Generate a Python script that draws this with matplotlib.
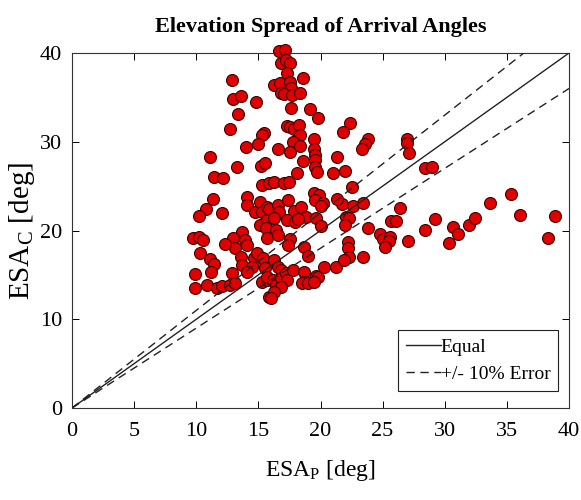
import matplotlib
matplotlib.use("Agg")
import matplotlib.pyplot as plt
import numpy as np

plt.rcParams['font.family'] = ['Liberation Serif', 'DejaVu Serif']
plt.rcParams['mathtext.fontset'] = 'custom'
plt.rcParams['mathtext.rm'] = 'Liberation Serif'
plt.rcParams['mathtext.it'] = 'Liberation Serif:italic'

# ESA_P (x) and ESA_C (y) in degrees
esa_p = [22.41, 21.79, 23.81, 23.6, 23.35, 26.97, 26.93, 27.1, 21.98, 28.44,
         28.99, 22.55, 21.76, 22.65, 23.41, 26.37, 22.04, 22.33, 21.98, 23.81,
         25.7, 26.1, 29.2, 33.67, 35.31, 36.04, 38.84, 38.3, 24.81, 25.07,
         25.59, 25.51, 25.19, 27.05, 28.42, 30.68, 31.03, 30.38, 31.92, 32.4,
         22.25, 22.25, 22.33, 23.46,
         12.9, 12.99, 13.58, 14.81, 13.39, 12.71, 15.46, 15.27, 15.0, 13.98,
         11.07, 13.31, 15.19, 15.52, 11.42, 12.18,
         16.67, 17.13, 16.86, 17.21, 17.56, 17.29, 18.56, 16.22, 16.75, 17.56,
         17.62, 16.86, 17.03, 17.67, 18.37, 17.62, 19.18, 19.82, 17.29, 17.56,
         17.88, 18.29, 18.37, 17.75, 16.59, 17.56, 18.37, 19.5, 19.5, 19.56,
         19.56, 18.59, 19.56, 19.72, 21.33, 20.99, 18.1,
         15.33, 15.86, 11.34, 10.75, 10.2, 12.06, 14.12, 14.12, 14.71, 15.14,
         15.33, 15.73, 15.14, 15.68, 13.66, 13.9, 14.06, 12.99, 13.09, 12.28,
         9.75, 10.2, 10.51, 10.34, 11.1, 11.42, 11.15, 9.86, 9.86, 10.88,
         11.69, 12.1, 12.71, 12.9, 13.09, 13.63, 13.71, 14.65, 14.87, 15.19,
         15.41, 14.52, 14.12, 15.33, 15.68, 15.86,
         16.22, 17.07, 17.48, 19.5, 19.9, 19.56, 20.18, 20.04, 21.33, 15.86,
         16.59, 16.67, 17.83, 18.42, 17.35, 18.83, 19.64, 16.27, 17.29, 17.94,
         18.21, 20.04, 15.6, 16.4, 15.68, 16.54, 17.56, 17.4, 18.64, 19.01,
         15.52, 16.27, 16.54, 15.71, 16.81, 16.14, 16.4, 16.81, 17.21, 17.29,
         17.75, 18.69, 18.69, 19.64, 19.82, 20.26, 21.25, 21.92, 18.48, 16.81,
         16.27, 16.0, 18.97, 19.5]
esa_c = [32.15, 31.13, 30.28, 29.75, 29.15, 30.28, 29.83, 28.7, 26.74, 27.0,
         27.19, 24.87, 22.99, 22.76, 23.13, 22.54, 21.56, 21.37, 20.62, 20.32,
         21.1, 21.1, 21.26, 23.13, 24.11, 21.78, 21.63, 19.12, 19.61, 19.08,
         19.3, 18.78, 18.17, 18.85, 20.06, 20.36, 19.61, 18.63, 20.59, 21.41,
         18.74, 17.99, 17.05, 16.98,
         36.92, 34.78, 35.15, 34.48, 33.09, 31.4, 30.95, 30.76, 29.71, 29.37,
         28.32, 27.12, 27.3, 27.64, 26.03, 25.97,
         40.26, 40.34, 38.84, 39.21, 38.91, 37.71, 37.15, 36.39, 36.59, 36.77,
         36.02, 35.53, 35.38, 35.27, 35.53, 33.77, 33.66, 32.71, 31.77, 31.63,
         31.4, 31.89, 30.76, 30.01, 29.15, 28.88, 29.52, 30.28, 29.15, 28.51,
         27.94, 27.86, 27.12, 26.63, 28.32, 26.51, 26.51,
         25.13, 25.32, 23.52, 22.39, 21.63, 22.0, 23.74, 22.87, 22.12, 23.25,
         22.12, 22.68, 20.62, 21.18, 19.86, 18.93, 18.37, 19.12, 17.99, 18.48,
         19.12, 19.3, 18.93, 17.43, 16.75, 16.23, 15.36, 15.1, 13.49, 13.86,
         13.49, 13.75, 13.86, 15.18, 14.05, 16.98, 16.11, 16.87, 17.43, 16.3,
         16.87, 15.92, 15.36, 14.23, 14.42, 12.54,
         25.5, 25.32, 25.5, 24.26, 24.0, 23.44, 23.07, 22.76, 23.52, 22.39,
         22.87, 22.12, 22.23, 22.61, 23.44, 21.56, 21.37, 21.37, 21.18, 20.99,
         21.26, 20.51, 20.25, 20.06, 19.12, 19.49, 19.01, 18.37, 18.11, 17.13,
         15.74, 16.68, 15.92, 14.79, 15.55, 14.42, 13.86, 14.61, 15.18, 14.42,
         15.55, 15.36, 14.23, 14.87, 14.73, 15.92, 15.92, 16.68, 14.05, 13.67,
         13.1, 12.36, 14.05, 14.23]

line_x = [0, 40]
error_factor = [1.1, 0.9]

x_ticks = [0, 5, 10, 15, 20, 25, 30, 35, 40]
y_ticks = [0, 10, 20, 30, 40]

fig = plt.figure(figsize=(5.81, 5.00), dpi=100)
ax = fig.add_axes([72/581, 1 - 408/500, 497/581, 355/500])

ax.scatter(esa_p, esa_c, s=74, facecolor='#e00000', edgecolor='#3a0000',
           linewidths=0.8, zorder=2, clip_on=False)

lx = np.array(line_x, dtype=float)
ax.plot(lx, lx, color='#222222', lw=1.0, zorder=3, label='Equal')
for i, f in enumerate(error_factor):
    ax.plot(lx, f * lx, color='#222222', lw=1.0, ls=(0, (6, 4)), zorder=3,
            label='+/- 10% Error' if i == 0 else None)

ax.set_xlim(0, 40)
ax.set_ylim(0, 40)
ax.set_xticks(x_ticks)
ax.set_yticks(y_ticks)
ax.tick_params(direction='in', top=True, right=True, length=5, width=0.7,
               labelsize=16)
ax.tick_params(axis='x', pad=10)
ax.tick_params(axis='y', pad=7)
for s in ax.spines.values():
    s.set_linewidth(0.8)
    s.set_color('#333333')

ax.set_title('Elevation Spread of Arrival Angles', fontsize=16,
             fontweight='bold', pad=15)
ax.set_xlabel(r'ESA$_\mathrm{P}$ [deg]', fontsize=17, labelpad=12)
ax.set_ylabel(r'ESA$_\mathrm{C}$ [deg]', fontsize=21, labelpad=2)

leg = ax.legend(loc='lower right', bbox_to_anchor=(0.978, 0.048),
                borderaxespad=0, fontsize=14, frameon=True, fancybox=False,
                handlelength=1.8, handletextpad=0.0, borderpad=0.4,
                labelspacing=0.5)
leg.get_frame().set_edgecolor('#222222')
leg.get_frame().set_linewidth(0.8)
leg.get_frame().set_alpha(1)

fig.savefig('out.png', dpi=100)
